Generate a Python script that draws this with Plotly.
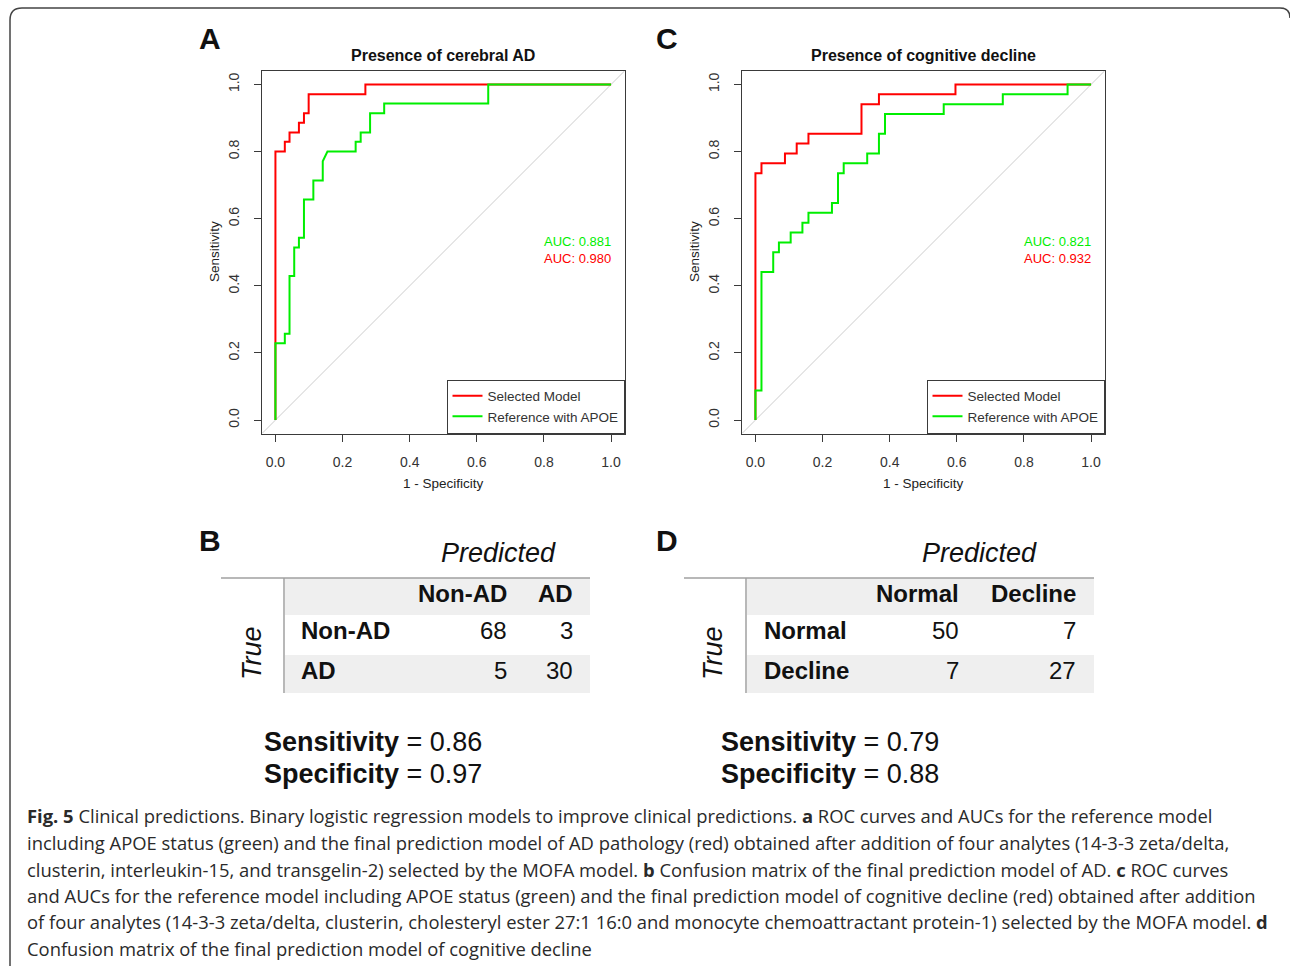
import plotly.graph_objects as go

W, H = 1290, 966

# ---------------- data ----------------
# Panel A: presence of cerebral AD (71 non-AD, 35 AD)
ad_sel_fpr = [0, 0, 0.028, 0.028, 0.042, 0.042, 0.070, 0.070, 0.085, 0.085, 0.099, 0.099, 0.268, 0.268, 1.0]
ad_sel_tpr = [0, 0.800, 0.800, 0.829, 0.829, 0.857, 0.857, 0.886, 0.886, 0.914, 0.914, 0.971, 0.971, 1.0, 1.0]
ad_ref_fpr = [0, 0, 0.028, 0.028, 0.042, 0.042, 0.056, 0.056, 0.070, 0.070, 0.085, 0.085, 0.113, 0.113,
              0.141, 0.141, 0.155, 0.239, 0.239, 0.254, 0.254, 0.282, 0.282, 0.324, 0.324, 0.634, 0.634, 1.0]
ad_ref_tpr = [0, 0.229, 0.229, 0.257, 0.257, 0.429, 0.429, 0.514, 0.514, 0.543, 0.543, 0.657, 0.657, 0.714,
              0.714, 0.771, 0.800, 0.800, 0.829, 0.829, 0.857, 0.857, 0.914, 0.914, 0.943, 0.943, 1.0, 1.0]
ad_auc_ref = 0.881
ad_auc_sel = 0.980

# Panel C: presence of cognitive decline (57 normal, 34 decline)
cd_sel_fpr = [0, 0, 0.018, 0.018, 0.088, 0.088, 0.123, 0.123, 0.158, 0.158, 0.316, 0.316, 0.368, 0.368, 0.596, 0.596, 1.0]
cd_sel_tpr = [0, 0.735, 0.735, 0.765, 0.765, 0.794, 0.794, 0.824, 0.824, 0.853, 0.853, 0.941, 0.941, 0.971, 0.971, 1.0, 1.0]
cd_ref_fpr = [0, 0, 0.018, 0.018, 0.053, 0.053, 0.070, 0.070, 0.105, 0.105, 0.140, 0.140, 0.158, 0.158, 0.228, 0.228,
              0.246, 0.246, 0.263, 0.263, 0.333, 0.333, 0.368, 0.368, 0.386, 0.386, 0.561, 0.561, 0.737, 0.737,
              0.930, 0.930, 1.0]
cd_ref_tpr = [0, 0.088, 0.088, 0.441, 0.441, 0.500, 0.500, 0.529, 0.529, 0.559, 0.559, 0.588, 0.588, 0.618, 0.618, 0.647,
              0.647, 0.735, 0.735, 0.765, 0.765, 0.794, 0.794, 0.853, 0.853, 0.912, 0.912, 0.941, 0.941, 0.971,
              0.971, 1.0, 1.0]
cd_auc_ref = 0.821
cd_auc_sel = 0.932

axis_ticks = [0.0, 0.2, 0.4, 0.6, 0.8, 1.0]
series_names = ["Selected Model", "Reference with APOE"]

# Panel B / D confusion matrices
tab_b_classes = ["Non-AD", "AD"]
tab_b_counts = [[68, 3], [5, 30]]
tab_b_sens, tab_b_spec = 0.86, 0.97
tab_d_classes = ["Normal", "Decline"]
tab_d_counts = [[50, 7], [7, 27]]
tab_d_sens, tab_d_spec = 0.79, 0.88

caption_lines = [
    "<b>Fig. 5</b> Clinical predictions. Binary logistic regression models to improve clinical predictions. <b>a</b> ROC curves and AUCs for the reference model",
    "including APOE status (green) and the final prediction model of AD pathology (red) obtained after addition of four analytes (14-3-3 zeta/delta,",
    "clusterin, interleukin-15, and transgelin-2) selected by the MOFA model. <b>b</b> Confusion matrix of the final prediction model of AD. <b>c</b> ROC curves",
    "and AUCs for the reference model including APOE status (green) and the final prediction model of cognitive decline (red) obtained after addition",
    "of four analytes (14-3-3 zeta/delta, clusterin, cholesteryl ester 27:1 16:0 and monocyte chemoattractant protein-1) selected by the MOFA model. <b>d</b>",
    "Confusion matrix of the final prediction model of cognitive decline",
]

# ---------------- helpers ----------------
def px(x):
    return x / W

def py(y):
    return 1 - y / H

RED = "#ff0000"
GREEN = "#00ee00"
FR = "#3a3a3a"
AX_FONT = "Liberation Sans"
RANGE = [-0.04, 1.04]

fig = go.Figure()

panels = [
    ("x", "y", "legend", ad_sel_fpr, ad_sel_tpr, ad_ref_fpr, ad_ref_tpr),
    ("x2", "y2", "legend2", cd_sel_fpr, cd_sel_tpr, cd_ref_fpr, cd_ref_tpr),
]
for xa, ya, leg, sf, st, rf, rt in panels:
    fig.add_trace(go.Scatter(x=RANGE, y=RANGE, mode="lines", line=dict(color="#cccccc", width=1),
                             showlegend=False, hoverinfo="skip", xaxis=xa, yaxis=ya))
    fig.add_trace(go.Scatter(x=sf, y=st, mode="lines", line=dict(color=RED, width=2),
                             name=series_names[0], xaxis=xa, yaxis=ya, legend=leg))
    fig.add_trace(go.Scatter(x=rf, y=rt, mode="lines", line=dict(color=GREEN, width=2),
                             name=series_names[1], xaxis=xa, yaxis=ya, legend=leg))

axis_common = dict(range=RANGE, tickvals=axis_ticks, tickformat=".1f", ticks="outside", ticklen=7,
                   tickwidth=1, tickcolor=FR, showline=True, linecolor=FR, linewidth=1, mirror=True,
                   showgrid=False, zeroline=False, ticklabelstandoff=9,
                   tickfont=dict(family=AX_FONT, size=14, color="#333333"))
ydom = [py(433.5), py(71)]
fig.update_layout(
    xaxis=dict(axis_common, domain=[px(262), px(624.5)], anchor="y"),
    yaxis=dict(axis_common, domain=ydom, anchor="x", tickangle=-90),
    xaxis2=dict(axis_common, domain=[px(742), px(1104.5)], anchor="y2"),
    yaxis2=dict(axis_common, domain=ydom, anchor="x2", tickangle=-90),
)

leg_common = dict(xanchor="right", yanchor="bottom", bordercolor=FR, borderwidth=1, bgcolor="white",
                  font=dict(family=AX_FONT, size=13.5, color="#333333"), tracegroupgap=2, itemwidth=30,
                  traceorder="normal")
fig.update_layout(
    legend=dict(leg_common, x=px(624.5), y=py(433.5)),
    legend2=dict(leg_common, x=px(1104.5), y=py(433.5)),
)

ann = []
shapes = []

def text(x, y, s, size, anchor="center", family=AX_FONT, color="#111111", angle=0, yanchor="middle"):
    ann.append(dict(x=px(x), y=py(y), xref="paper", yref="paper", text=s, showarrow=False,
                    xanchor=anchor, yanchor=yanchor, textangle=angle,
                    font=dict(family=family, size=size, color=color)))

# panel letters
for letter, x, y in [("A", 210, 38), ("C", 667, 38), ("B", 210, 540), ("D", 667, 540)]:
    text(x, y, "<b>%s</b>" % letter, 30)

# ROC titles, axis labels, AUC text
for cx, title, xa, ya, aref, asel, lx in [
    (443, "Presence of cerebral AD", "x", "y", ad_auc_ref, ad_auc_sel, 214),
    (923, "Presence of cognitive decline", "x2", "y2", cd_auc_ref, cd_auc_sel, 694),
]:
    text(cx, 55, "<b>%s</b>" % title, 16)
    text(cx, 483, "1 - Specificity", 13.5, color="#222222")
    text(lx, 252, "Sensitivity", 13.5, color="#222222", angle=-90)
    ann.append(dict(x=1.005, y=0.531, xref=xa, yref=ya, text="AUC: %.3f" % aref, showarrow=False,
                    xanchor="right", yanchor="middle", font=dict(family=AX_FONT, size=13, color=GREEN)))
    ann.append(dict(x=1.005, y=0.480, xref=xa, yref=ya, text="AUC: %.3f" % asel, showarrow=False,
                    xanchor="right", yanchor="middle", font=dict(family=AX_FONT, size=13, color=RED)))

# confusion tables
def table(left, vline, right, col_right, row_left, pred_cx, true_cx, classes, counts, sens, spec, stat_x):
    top, hdr_b, r1_b, r2_b = 578, 615, 655, 693
    shapes.append(dict(type="rect", xref="paper", yref="paper", x0=px(vline + 1), x1=px(right),
                       y0=py(hdr_b), y1=py(top), fillcolor="#efefef", line=dict(width=0), layer="below"))
    shapes.append(dict(type="rect", xref="paper", yref="paper", x0=px(vline + 1), x1=px(right),
                       y0=py(r2_b), y1=py(r1_b), fillcolor="#efefef", line=dict(width=0), layer="below"))
    shapes.append(dict(type="line", xref="paper", yref="paper", x0=px(left), x1=px(right),
                       y0=py(top), y1=py(top), line=dict(color="#a0a0a0", width=1.5)))
    shapes.append(dict(type="line", xref="paper", yref="paper", x0=px(vline), x1=px(vline),
                       y0=py(top), y1=py(r2_b), line=dict(color="#a0a0a0", width=1.5)))
    text(pred_cx, 553, "<i>Predicted</i>", 27)
    text(true_cx, 653, "<i>True</i>", 27, angle=-90)
    for j, c in enumerate(classes):
        text(col_right[j], 593, "<b>%s</b>" % c, 24, anchor="right")
    for i, c in enumerate(classes):
        yy = [630, 670][i]
        text(row_left, yy, "<b>%s</b>" % c, 24, anchor="left")
        for j in range(len(classes)):
            text(col_right[j], yy, str(counts[i][j]), 24, anchor="right")
    text(stat_x, 742, "<b>Sensitivity</b> = %.2f" % sens, 27, anchor="left")
    text(stat_x, 774, "<b>Specificity</b> = %.2f" % spec, 27, anchor="left")

table(221, 284, 590, [509, 575], 299, 498, 252, tab_b_classes, tab_b_counts, tab_b_sens, tab_b_spec, 262)
table(684, 746, 1094, [961, 1078], 762, 979, 713, tab_d_classes, tab_d_counts, tab_d_sens, tab_d_spec, 719)

# caption
cap_y = [815, 842, 869, 895, 921, 948]
for s, y in zip(caption_lines, cap_y):
    text(25, y, s, 18.4, anchor="left", family="Open Sans", color="#2a2a2a")

# outer rounded border
path = ("M %f,%f L %f,%f Q %f,%f %f,%f L %f,%f Q %f,%f %f,%f" % (
    px(10), py(966), px(10), py(20), px(10), py(8), px(22), py(8),
    px(1280), py(8), px(1290), py(8), px(1290), py(18)))
shapes.append(dict(type="path", xref="paper", yref="paper", path=path, line=dict(color="#444444", width=1.5)))

fig.update_layout(
    annotations=ann, shapes=shapes,
    width=W, height=H, autosize=False,
    margin=dict(l=0, r=0, t=0, b=0),
    paper_bgcolor="white", plot_bgcolor="white",
)

fig.write_html("out.html", config={"displayModeBar": False},
               post_script="document.body.style.margin='0px';document.body.style.overflow='hidden';")
